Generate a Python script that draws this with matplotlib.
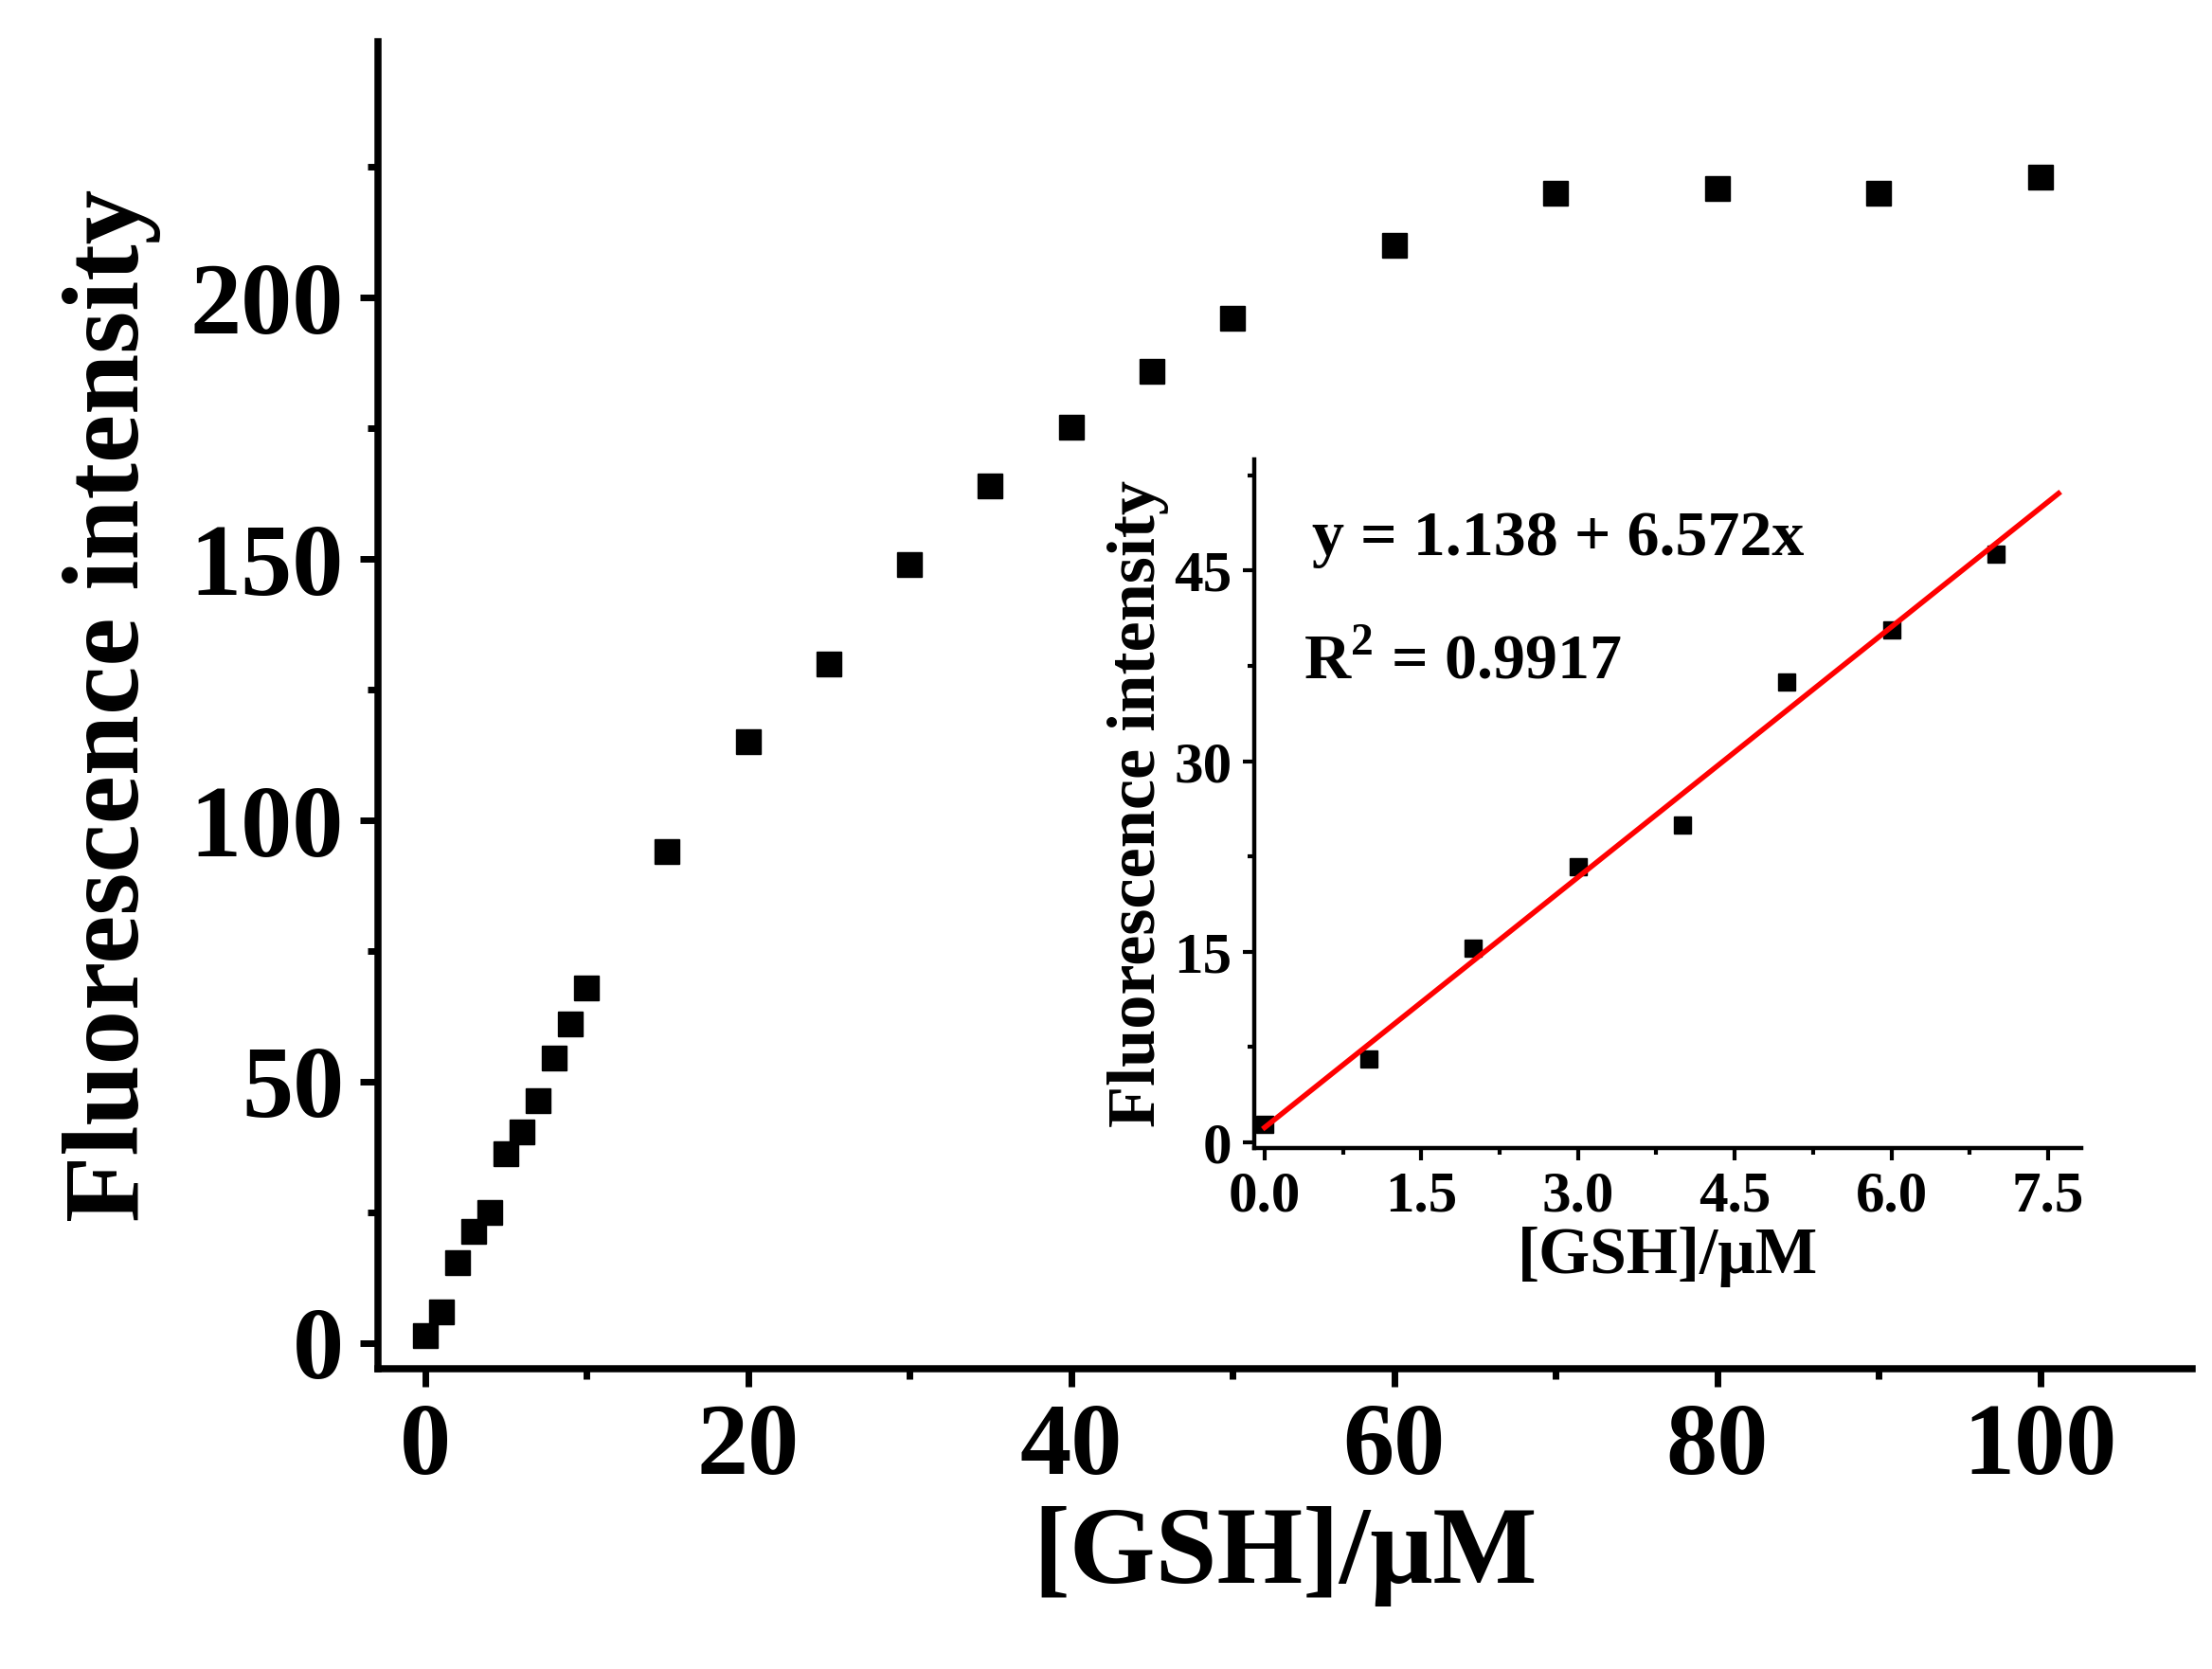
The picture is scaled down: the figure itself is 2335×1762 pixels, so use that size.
import numpy as np
import matplotlib
matplotlib.use('Agg')
import matplotlib.pyplot as plt
from matplotlib.ticker import MultipleLocator, FormatStrFormatter

plt.rcParams['font.family'] = ['Liberation Serif', 'DejaVu Serif']
plt.rcParams['font.weight'] = 'bold'
plt.rcParams['mathtext.fontset'] = 'custom'
plt.rcParams['mathtext.rm'] = 'Liberation Serif:bold'
plt.rcParams['mathtext.bf'] = 'Liberation Serif:bold'

# main curve
gsh = [0, 1, 2, 3, 4, 5, 6, 7, 8, 9, 10, 15, 20, 25, 30, 35, 40, 45, 50, 60, 70, 80, 90, 100]
intensity = [1.4, 6, 15.4, 21.4, 25, 36.3, 40.4, 46.3, 54.5, 61, 68, 94, 115, 130, 149,
             164, 175.3, 186, 196, 210, 220, 221, 220, 223]

# inset linear range
gsh_lin = [0, 1, 2, 3, 4, 5, 6, 7]
int_lin = [1.4, 6.5, 15.3, 21.7, 25, 36.2, 40.3, 46.3]
fit_b, fit_k = 1.138, 6.572

fig = plt.figure(figsize=(23.35, 17.62), dpi=100)
ax = fig.add_axes([0.171, 0.180, 0.820, 0.795])
ax.plot(gsh, intensity, 's', color='black', markersize=19)
ax.set_xlim(-2.9, 109.4)
ax.set_ylim(-4.9, 249)
ax.xaxis.set_major_locator(MultipleLocator(20))
ax.xaxis.set_minor_locator(MultipleLocator(10))
ax.yaxis.set_major_locator(MultipleLocator(50))
ax.yaxis.set_minor_locator(MultipleLocator(25))
for s in ['top', 'right']:
    ax.spines[s].set_visible(False)
for s in ['left', 'bottom']:
    ax.spines[s].set_linewidth(5.4)
ax.tick_params(which='major', length=14, width=5, labelsize=78, pad=12)
ax.tick_params(which='minor', length=8, width=5)
ax.set_xlabel('[GSH]/μM', fontsize=84, fontweight='bold', labelpad=8)
ax.set_ylabel('Fluorescence intensity', fontsize=83, fontweight='bold', labelpad=22)

ins = fig.add_axes([0.567, 0.312, 0.374, 0.413])
ins.plot(gsh_lin, int_lin, 's', color='black', markersize=13)
xf = np.array([0, 7.6])
ins.plot(xf, fit_b + fit_k * xf, color='red', linewidth=4)
ins.set_xlim(-0.1, 7.82)
ins.set_ylim(-0.5, 53.8)
ins.xaxis.set_major_locator(MultipleLocator(1.5))
ins.xaxis.set_minor_locator(MultipleLocator(0.75))
ins.yaxis.set_major_locator(MultipleLocator(15))
ins.yaxis.set_minor_locator(MultipleLocator(7.5))
ins.xaxis.set_major_formatter(FormatStrFormatter('%.1f'))
for s in ['top', 'right']:
    ins.spines[s].set_visible(False)
for s in ['left', 'bottom']:
    ins.spines[s].set_linewidth(3.2)
ins.tick_params(which='major', length=9, width=3, labelsize=44, pad=8)
ins.tick_params(which='minor', length=5, width=3)
ins.set_xlabel('[GSH]/μM', fontsize=50, fontweight='bold', labelpad=2)
ins.set_ylabel('Fluorescence intensity', fontsize=52, fontweight='bold', labelpad=4)
ins.text(0.07, 0.86, 'y = 1.138 + 6.572x', transform=ins.transAxes, fontsize=49,
         fontweight='bold')
ins.text(0.06, 0.68, r'R$^{2}$ = 0.9917', transform=ins.transAxes, fontsize=49,
         fontweight='bold')

fig.savefig('out.png', dpi=100)
